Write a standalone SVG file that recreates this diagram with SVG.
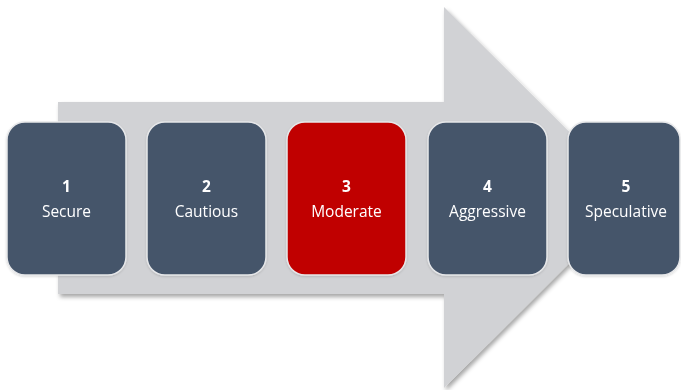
<svg xmlns="http://www.w3.org/2000/svg" width="681" height="390" viewBox="0 0 681 390">
<defs>
<filter id="sh" x="-10%" y="-10%" width="120%" height="120%">
<feDropShadow dx="2" dy="3" stdDeviation="2" flood-color="#000" flood-opacity="0.35"/>
</filter>
<filter id="bs" x="-10%" y="-10%" width="120%" height="120%">
<feDropShadow dx="0" dy="1" stdDeviation="1" flood-color="#000" flood-opacity="0.15"/>
</filter>
</defs>
<style>
.box{fill:#44546a;stroke:#e6e7e9;stroke-width:1.5}
.red{fill:#c00000}
.num{font-family:"Open Sans","Liberation Sans",sans-serif;font-size:15.5px;font-weight:bold;fill:#fff;text-anchor:middle}
.lbl{font-family:"Open Sans","Liberation Sans",sans-serif;font-size:15.5px;fill:#fff;text-anchor:middle}
</style>
<rect width="681" height="390" fill="#fff"/>
<g id="arrow">
<path d="M58,102 L444,102 L444,7 L635,197.5 L444,388 L444,294 L58,294 Z" fill="#d1d2d5" filter="url(#sh)"/>
</g>
<g id="node1" filter="url(#bs)">
<rect class="box" x="7" y="122" width="119" height="153" rx="18"/>
<text class="num" x="66.5" y="191.5">1</text>
<text class="lbl" x="66.5" y="217">Secure</text>
</g>
<g id="node2" filter="url(#bs)">
<rect class="box" x="147" y="122" width="119" height="153" rx="18"/>
<text class="num" x="206.5" y="191.5">2</text>
<text class="lbl" x="206.5" y="217">Cautious</text>
</g>
<g id="node3" filter="url(#bs)">
<rect class="box red" x="287" y="122" width="119" height="153" rx="18"/>
<text class="num" x="346.5" y="191.5">3</text>
<text class="lbl" x="346.5" y="217">Moderate</text>
</g>
<g id="node4" filter="url(#bs)">
<rect class="box" x="428" y="122" width="119" height="153" rx="18"/>
<text class="num" x="487.5" y="191.5">4</text>
<text class="lbl" x="487.5" y="217">Aggressive</text>
</g>
<g id="node5" filter="url(#bs)">
<rect class="box" x="568" y="122" width="112" height="153" rx="18"/>
<text class="num" x="626" y="191.5">5</text>
<text class="lbl" x="626" y="217">Speculative</text>
</g>
<g id="connectors"></g>
</svg>
